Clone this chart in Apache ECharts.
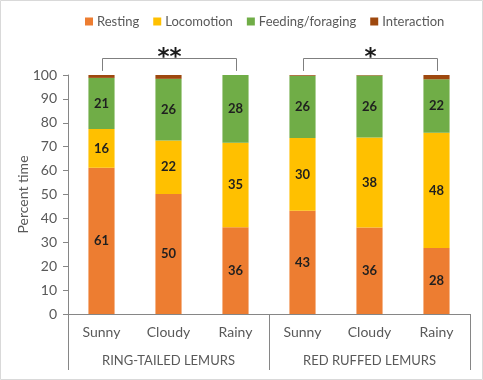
<!DOCTYPE html>
<html>
<head>
<meta charset="utf-8">
<script src="https://cdn.jsdelivr.net/npm/echarts@6/dist/echarts.min.js"></script>
<style>
html,body{margin:0;padding:0;background:#fff;}
#c{width:483px;height:380px;}
</style>
</head>
<body>
<div id="c"></div>
<script>
const categories = ['Sunny', 'Cloudy', 'Rainy', 'Sunny', 'Cloudy', 'Rainy'];
const groups = ['RING-TAILED LEMURS', 'RED RUFFED LEMURS'];
const seriesNames = ['Resting', 'Locomotion', 'Feeding/foraging', 'Interaction'];
const resting = [61.2, 50.2, 36.3, 43.2, 36.2, 27.6];
const locomotion = [16.2, 22.4, 35.4, 30.4, 37.6, 48.2];
const feeding = [21.4, 25.8, 28.3, 26.1, 26.0, 22.4];
const interaction = [1.2, 1.6, 0, 0.3, 0.2, 1.8];
const significance = [
  { from: 0, to: 2, label: '**' },
  { from: 3, to: 5, label: '*' }
];

const colors = ['#ED7D31', '#FFC000', '#70AD47', '#9E480E'];
const font = 'Lato, "Liberation Sans", sans-serif';
const chart = echarts.init(document.getElementById('c'), null, { renderer: 'canvas' });

const labelOpt = {
  show: true, position: 'inside', color: '#1f1f1f', fontWeight: 'bold',
  fontSize: 13, fontFamily: font,
  formatter: p => Math.round(p.value)
};
const values = [resting, locomotion, feeding, interaction];
const series = seriesNames.map((n, i) => ({
  name: n, type: 'bar', stack: 'total', data: values[i],
  barWidth: '39%',
  itemStyle: { color: colors[i] },
  label: i < 3 ? labelOpt : { show: false }
}));

chart.setOption({
  animation: false,
  color: colors,
  legend: {
    data: seriesNames, left: 80, top: 10,
    itemWidth: 8, itemHeight: 8, itemGap: 14, icon: 'rect',
    textStyle: { color: '#595959', fontSize: 13, fontFamily: font, padding: [0, 0, 0, -1] }
  },
  grid: { left: 68, right: 13, top: 75, bottom: 66 },
  xAxis: [
    {
      type: 'category', data: categories, position: 'bottom',
      axisLine: { show: true, lineStyle: { color: '#868686', width: 1 } },
      axisTick: { show: false },
      axisLabel: { color: '#595959', fontSize: 14, fontFamily: font, margin: 11, interval: 0 }
    },
    {
      type: 'category', data: groups, position: 'bottom', offset: 0,
      axisLine: { show: false },
      axisTick: { show: true, length: 56, interval: 0, lineStyle: { color: '#868686' } },
      axisLabel: { color: '#595959', fontSize: 13, fontFamily: font, margin: 40, interval: 0 }
    }
  ],
  yAxis: {
    type: 'value', min: 0, max: 100, interval: 10,
    name: 'Percent time', nameLocation: 'middle', nameGap: 38, nameRotate: 90,
    nameMoveOverlap: false,
    nameTextStyle: { color: '#595959', fontSize: 14, fontFamily: font },
    axisLine: { show: true, lineStyle: { color: '#868686' } },
    axisTick: { show: true, inside: false, length: 5, lineStyle: { color: '#868686' } },
    axisLabel: { color: '#595959', fontSize: 14, fontFamily: font, margin: 11 },
    splitLine: { show: false }
  },
  series: series
});

const g = [{
  type: 'rect', shape: { x: 0.5, y: 0.5, width: 482, height: 379 },
  style: { fill: 'none', stroke: '#d9d9d9', lineWidth: 1 }, silent: true
}];
significance.forEach(s => {
  const pA = chart.convertToPixel({ xAxisIndex: 0, yAxisIndex: 0 }, [s.from, 107]);
  const pB = chart.convertToPixel({ xAxisIndex: 0, yAxisIndex: 0 }, [s.to, 107]);
  const yLow = chart.convertToPixel({ xAxisIndex: 0, yAxisIndex: 0 }, [s.from, 101.7])[1];
  const yTxt = chart.convertToPixel({ xAxisIndex: 0, yAxisIndex: 0 }, [s.from, 107.2])[1];
  const x1 = Math.round(pA[0]) + 0.5, x2 = Math.round(pB[0]) + 0.5, y = Math.round(pA[1]) + 0.5;
  g.push({
    type: 'polyline', silent: true,
    shape: { points: [[x1, yLow], [x1, y], [x2, y], [x2, yLow]] },
    style: { stroke: '#7f7f7f', lineWidth: 1, fill: 'none' }
  });
  g.push({
    type: 'text', silent: true, x: (x1 + x2) / 2, y: yTxt,
    style: { text: s.label, fill: '#1a1a1a', fontSize: 23, fontFamily: '"DejaVu Sans", sans-serif', fontWeight: 'bold', align: 'center', verticalAlign: 'middle' }
  });
});
chart.setOption({ graphic: g });
</script>
</body>
</html>
